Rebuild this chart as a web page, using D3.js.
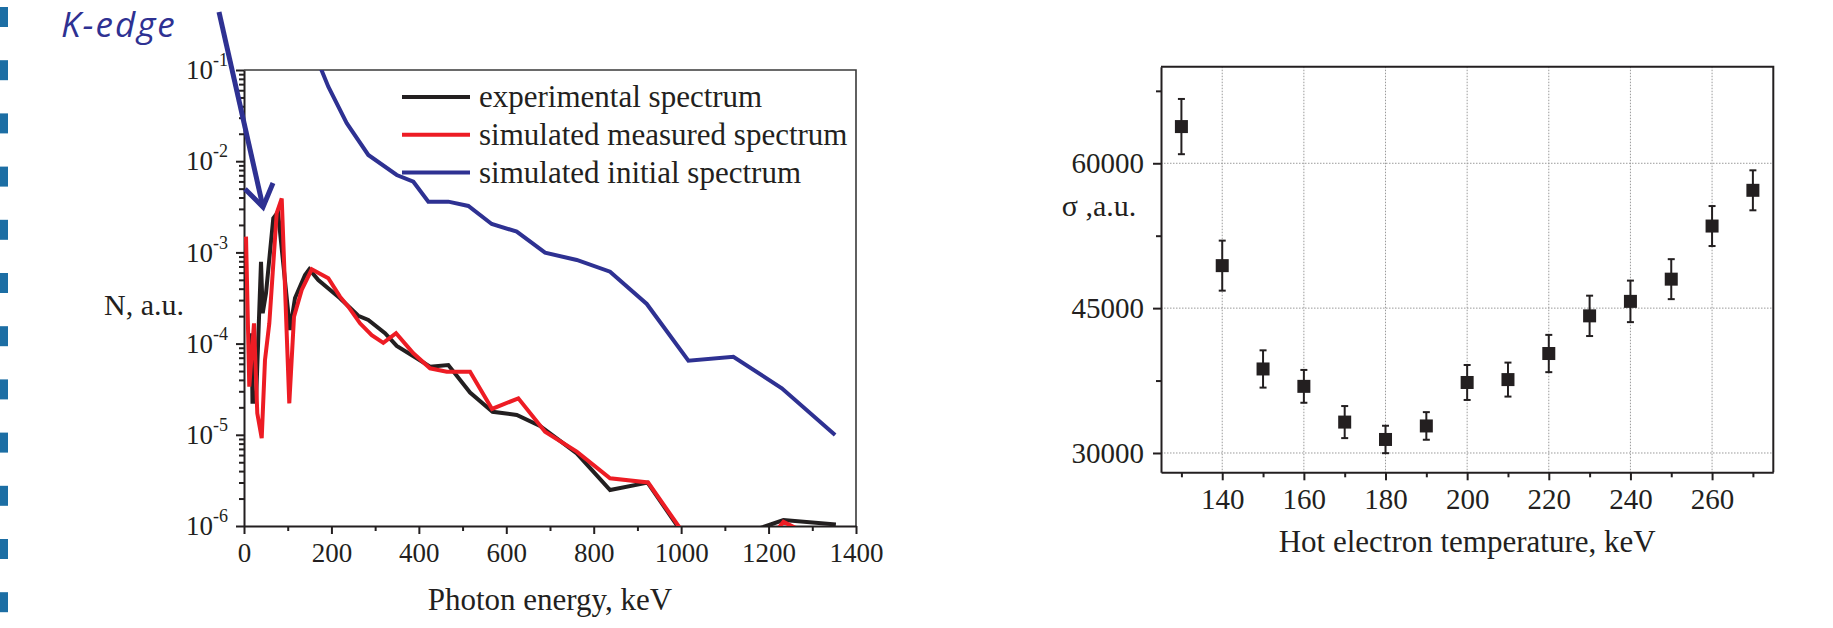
<!DOCTYPE html>
<html>
<head>
<meta charset="utf-8">
<script src="https://cdn.jsdelivr.net/npm/d3@7"></script>
<style>
body { margin: 0; background: #fff; }
svg text { font-family: "Liberation Serif", "Times New Roman", serif; fill: #231f20; }
</style>
</head>
<body>
<svg id="chart" width="1833" height="628"></svg>
<script>
// ---- left panel: spectra (energy keV, N a.u.) ----
var expE = [17.6, 19.4, 27.5, 38.9, 42.8, 50.3, 67.0, 77.8, 105.2, 116.7, 139.6, 149.4, 170, 219.6, 261.5, 284.4, 322.6, 349.4, 395.1, 425.6, 467.4, 517.1, 568.6, 624, 677.2, 761.2, 837.4, 923.2, 998, 1100, 1234, 1354];
var expN = [1.30e-4, 2.31e-5, 2.31e-5, 7.9e-4, 2.15e-4, 3.57e-4, 2.37e-3, 2.77e-3, 1.41e-4, 3.16e-4, 5.65e-4, 6.53e-4, 4.98e-4, 3.14e-4, 2.02e-4, 1.82e-4, 1.30e-4, 9.42e-5, 6.90e-5, 5.58e-5, 5.82e-5, 2.91e-5, 1.79e-5, 1.65e-5, 1.25e-5, 6.26e-6, 2.48e-6, 2.99e-6, 9e-7, 7e-7, 1.16e-6, 1.04e-6];

var simE = [4.6, 12.1, 22.9, 30.4, 40.5, 48.0, 57.9, 74.8, 86.3, 103.6, 114.4, 132, 154.9, 192.9, 219.6, 238.6, 265.4, 292.2, 318.7, 347.8, 387.4, 425.6, 463.8, 517.1, 567.4, 627.6, 688.7, 761.2, 837.4, 924.4, 997.6, 1110, 1234, 1352];
var simN = [1.49e-3, 3.37e-5, 1.67e-4, 1.72e-5, 9.2e-6, 6.6e-5, 1.67e-4, 2.69e-3, 3.9e-3, 2.21e-5, 1.97e-4, 3.87e-4, 6.53e-4, 5.20e-4, 3.27e-4, 2.54e-4, 1.67e-4, 1.24e-4, 1.02e-4, 1.30e-4, 7.83e-5, 5.36e-5, 4.92e-5, 4.92e-5, 1.92e-5, 2.51e-5, 1.08e-5, 6.53e-6, 3.34e-6, 3.00e-6, 9.44e-7, 2e-7, 1.11e-6, 5.8e-7];

var iniE = [174, 192.9, 235.0, 284.4, 349.4, 387.4, 421.7, 467.4, 513.2, 566.7, 623.9, 688.7, 761.2, 837.4, 921.4, 1016.6, 1119.5, 1230.3, 1352.2];
var iniN = [0.109, 0.0656, 0.0261, 0.0117, 0.00706, 0.00596, 0.00360, 0.00360, 0.00323, 0.00205, 0.00169, 0.000993, 0.000826, 0.000615, 0.000272, 6.5e-5, 7.18e-5, 3.24e-5, 9.95e-6];

var legendNames = ["experimental spectrum", "simulated measured spectrum", "simulated initial spectrum"];
var xTicksL = [0, 200, 400, 600, 800, 1000, 1200, 1400];
var xMinorL = [100, 300, 500, 700, 900, 1100, 1300];
var yTicksL = [1e-6, 1e-5, 1e-4, 1e-3, 1e-2, 1e-1];

// ---- right panel: sigma vs hot electron temperature ----
var temps = [130, 140, 150, 160, 170, 180, 190, 200, 210, 220, 230, 240, 250, 260, 270];
var sigma = [63800, 49400, 38700, 36900, 33200, 31400, 32800, 37300, 37600, 40300, 44200, 45700, 48000, 53500, 57200];
var sigmaErr = [2860, 2590, 1930, 1700, 1660, 1420, 1430, 1810, 1760, 1930, 2090, 2150, 2070, 2070, 2070];
var xTicksR = [140, 160, 180, 200, 220, 240, 260];
var xMinorR = [130, 150, 170, 190, 210, 230, 250, 270];
var yTicksR = [30000, 45000, 60000];
var yMinorR = [37500, 52500, 67500];

var colors = ["#231f20", "#ed1c24", "#2e3192"];

var svg = d3.select("#chart");

// slide bullets on the left edge
d3.range(12).forEach(function(i){
	svg.append("rect")
		.attr("x", 0).attr("y", 7 + i * 53.2)
		.attr("width", 8).attr("height", 20)
		.attr("fill", "#1c6ea4");
});

// ================= left panel =================
var L = {left: 244, top: 70, right: 856, bottom: 526};
var x1 = d3.scaleLinear().domain([0, 1400]).range([L.left, L.right]);
var y1 = d3.scaleLog().domain([1e-6, 1e-1]).range([L.bottom, L.top]);

svg.append("clipPath").attr("id", "clipL")
	.append("rect")
	.attr("x", L.left).attr("y", L.top)
	.attr("width", L.right - L.left).attr("height", L.bottom - L.top);

// frame top + right
svg.append("path")
	.attr("d", "M" + L.left + "," + L.top + "H" + L.right + "V" + L.bottom)
	.attr("fill", "none").attr("stroke", "#3a3a3a").attr("stroke-width", 1.6);

// x axis
var gxL = svg.append("g").attr("transform", "translate(0," + L.bottom + ")")
	.call(d3.axisBottom(x1).tickValues(xTicksL).tickSize(8).tickPadding(9).tickSizeOuter(0).tickFormat(d3.format("d")));
svg.append("g").attr("transform", "translate(0," + L.bottom + ")")
	.call(d3.axisBottom(x1).tickValues(xMinorL).tickSize(5).tickFormat("").tickSizeOuter(0))
	.select(".domain").remove();

// y axis, log with 2..9 minor ticks
var gyL = svg.append("g").attr("transform", "translate(" + L.left + ",0)")
	.call(d3.axisLeft(y1).tickValues(yTicksL).tickSize(8).tickPadding(8).tickSizeOuter(0).tickFormat(function(){ return ""; }));
var yMinorL = y1.ticks().filter(function(d){ return yTicksL.indexOf(d) < 0; });
svg.append("g").attr("transform", "translate(" + L.left + ",0)")
	.call(d3.axisLeft(y1).tickValues(yMinorL).tickSize(5).tickFormat(""))
	.select(".domain").remove();

gyL.selectAll(".tick text").each(function(d){
	var t = d3.select(this);
	t.text("10");
	t.append("tspan").attr("dy", "-0.72em").attr("font-size", "18px")
		.text("-" + Math.round(-Math.log10(d)));
});

[gxL, gyL].forEach(function(g){
	g.selectAll("path, line").attr("stroke", "#231f20").attr("stroke-width", 2);
	g.selectAll("text").attr("font-size", "27px").attr("fill", "#231f20");
});
svg.selectAll("g .tick line").attr("stroke", "#231f20").attr("stroke-width", 2);

// lines
var line1 = d3.line()
	.x(function(d){ return x1(d[0]); })
	.y(function(d){ return y1(d[1]); });

var series = [d3.zip(expE, expN), d3.zip(simE, simN), d3.zip(iniE, iniN)];
series.forEach(function(s, i){
	svg.append("path")
		.datum(s)
		.attr("clip-path", "url(#clipL)")
		.attr("fill", "none")
		.attr("stroke", colors[i])
		.attr("stroke-width", 4)
		.attr("stroke-linejoin", "miter")
		.attr("d", line1);
});

// legend
legendNames.forEach(function(name, i){
	var ly = 97 + i * 37.8;
	svg.append("line")
		.attr("x1", 402).attr("x2", 470).attr("y1", ly).attr("y2", ly)
		.attr("stroke", colors[i]).attr("stroke-width", 4);
	svg.append("text")
		.attr("x", 479).attr("y", ly + 10)
		.attr("font-size", "31px")
		.text(name);
});

// axis titles
svg.append("text").attr("x", 144).attr("y", 315).attr("text-anchor", "middle")
	.attr("font-size", "30px").text("N, a.u.");
svg.append("text").attr("x", (L.left + L.right) / 2).attr("y", 610).attr("text-anchor", "middle")
	.attr("font-size", "31px").text("Photon energy, keV");

// K-edge annotation
svg.append("text").attr("x", 61).attr("y", 37)
	.style("font-family", "'Open Sans', sans-serif").style("font-style", "italic")
	.style("letter-spacing", "2px")
	.attr("font-size", "35px").style("fill", "#2e3192")
	.text("K-edge");
var tip = [263, 207];
svg.append("path")
	.attr("d", "M219,12L" + tip[0] + "," + tip[1])
	.attr("stroke", "#2e3192").attr("stroke-width", 5).attr("fill", "none");
svg.append("path")
	.attr("d", "M245,189L" + tip[0] + "," + tip[1] + "L273,183")
	.attr("stroke", "#2e3192").attr("stroke-width", 5).attr("fill", "none")
	.attr("stroke-linejoin", "miter");

// ================= right panel =================
var R = {left: 1161, top: 66.7, right: 1773.3, bottom: 472.3};
var x2 = d3.scaleLinear().domain([125, 275]).range([R.left, R.right]);
var y2 = d3.scaleLinear().domain([28000, 70000]).range([R.bottom, R.top]);

// dotted grid
svg.append("g").selectAll("line.gx").data(xTicksR).enter().append("line")
	.attr("x1", function(d){ return x2(d); }).attr("x2", function(d){ return x2(d); })
	.attr("y1", R.top).attr("y2", R.bottom)
	.attr("stroke", "#9a9a9a").attr("stroke-width", 1).attr("stroke-dasharray", "1.5,1.5");
svg.append("g").selectAll("line.gy").data(yTicksR).enter().append("line")
	.attr("y1", function(d){ return y2(d); }).attr("y2", function(d){ return y2(d); })
	.attr("x1", R.left).attr("x2", R.right)
	.attr("stroke", "#9a9a9a").attr("stroke-width", 1).attr("stroke-dasharray", "1.5,1.5");

svg.append("path")
	.attr("d", "M" + R.left + "," + R.top + "H" + R.right + "V" + R.bottom)
	.attr("fill", "none").attr("stroke", "#231f20").attr("stroke-width", 2);

var gxR = svg.append("g").attr("transform", "translate(0," + R.bottom + ")")
	.call(d3.axisBottom(x2).tickValues(xTicksR).tickSize(8).tickPadding(8).tickSizeOuter(0));
svg.append("g").attr("transform", "translate(0," + R.bottom + ")")
	.call(d3.axisBottom(x2).tickValues(xMinorR).tickSize(5).tickFormat(""))
	.select(".domain").remove();
var gyR = svg.append("g").attr("transform", "translate(" + R.left + ",0)")
	.call(d3.axisLeft(y2).tickValues(yTicksR).tickSize(8).tickPadding(9).tickSizeOuter(0).tickFormat(d3.format("d")));
svg.append("g").attr("transform", "translate(" + R.left + ",0)")
	.call(d3.axisLeft(y2).tickValues(yMinorR).tickSize(5).tickFormat(""))
	.select(".domain").remove();

[gxR, gyR].forEach(function(g){
	g.selectAll("path, line").attr("stroke", "#231f20").attr("stroke-width", 2);
	g.selectAll("text").attr("font-size", "29px").attr("fill", "#231f20");
});
svg.selectAll("g .tick line").attr("stroke", "#231f20").attr("stroke-width", 2);

// error bars + squares
var pts = d3.zip(temps, sigma, sigmaErr);
var gp = svg.append("g");
pts.forEach(function(p){
	var cx = x2(p[0]);
	gp.append("line").attr("x1", cx).attr("x2", cx)
		.attr("y1", y2(p[1] - p[2])).attr("y2", y2(p[1] + p[2]))
		.attr("stroke", "#231f20").attr("stroke-width", 2);
	[p[1] - p[2], p[1] + p[2]].forEach(function(v){
		gp.append("line").attr("x1", cx - 3.5).attr("x2", cx + 3.5)
			.attr("y1", y2(v)).attr("y2", y2(v))
			.attr("stroke", "#231f20").attr("stroke-width", 2);
	});
	gp.append("rect").attr("x", cx - 6.5).attr("y", y2(p[1]) - 6.5)
		.attr("width", 13).attr("height", 13).attr("fill", "#231f20");
});

svg.append("text").attr("x", 1099).attr("y", 215.7).attr("text-anchor", "middle")
	.attr("font-size", "30px").text("σ ,a.u.");
svg.append("text").attr("x", (R.left + R.right) / 2).attr("y", 551.7).attr("text-anchor", "middle")
	.attr("font-size", "31px").text("Hot electron temperature, keV");
</script>
</body>
</html>
